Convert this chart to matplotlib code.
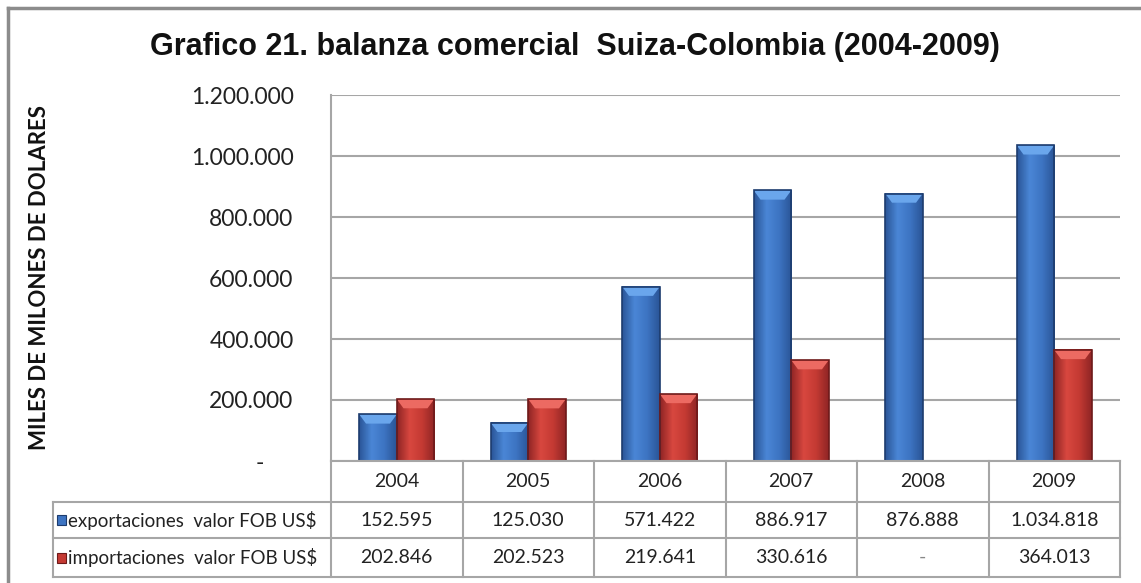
import matplotlib.pyplot as plt
import numpy as np
from matplotlib.colors import LinearSegmentedColormap
from matplotlib.patches import Polygon, Rectangle

years = ['2004', '2005', '2006', '2007', '2008', '2009']
exportaciones = [152595, 125030, 571422, 886917, 876888, 1034818]
importaciones = [202846, 202523, 219641, 330616, 0, 364013]
exp_txt = ['152.595', '125.030', '571.422', '886.917', '876.888', '1.034.818']
imp_txt = ['202.846', '202.523', '219.641', '330.616', '-', '364.013']
row_labels = ['exportaciones  valor FOB US$', 'importaciones  valor FOB US$']

W, H = 1141, 583
fig = plt.figure(figsize=(W / 100, H / 100), dpi=100)

# plot area in pixels
x0, x1, ytop, ybot = 331, 1120, 95, 461
ax = fig.add_axes([x0 / W, 1 - ybot / H, (x1 - x0) / W, (ybot - ytop) / H])
ax.set_xlim(-0.5, len(years) - 0.5)
ax.set_ylim(0, 1200000)
ax.set_yticks(np.arange(0, 1200001, 200000))


def fmt(v):
    if v == 0:
        return '-     '
    return f'{int(v):,}'.replace(',', '.')


ax.set_yticklabels([fmt(v) for v in ax.get_yticks()], family='Lato', fontsize=16.5, color='#222222')
ax.tick_params(axis='y', length=0, pad=27)
ax.set_xticks([])
for s in ['top', 'right', 'bottom']:
    ax.spines[s].set_visible(False)
ax.spines['left'].set_color('#a6a6a6')
ax.spines['left'].set_linewidth(1.5)
ax.yaxis.grid(True, color='#a6a6a6', linewidth=1.5)
ax.set_axisbelow(True)

bw = 0.285
blue = LinearSegmentedColormap.from_list('b', ['#2a5597', '#4a86d6', '#3d74c2', '#2a5597'])
red = LinearSegmentedColormap.from_list('r', ['#8f2525', '#d8473f', '#c43a33', '#8f2525'])
grad = np.linspace(0, 1, 64).reshape(1, -1)
bev_h = 30000  # height of top bevel in data units


def draw_bar(xc, v, cmap, light, edge):
    if v <= 0:
        return
    xa, xb = xc - bw / 2, xc + bw / 2
    ax.imshow(grad, cmap=cmap, aspect='auto', extent=(xa, xb, 0, v), zorder=3)
    d = bw * 0.18
    ax.add_patch(Polygon([(xa, v), (xb, v), (xb - d, v - bev_h), (xa + d, v - bev_h)],
                         closed=True, facecolor=light, edgecolor='none', zorder=4))
    ax.add_patch(Rectangle((xa, 0), bw, v, facecolor='none', edgecolor=edge, linewidth=1.2, zorder=5))


for i in range(len(years)):
    draw_bar(i - bw / 2, exportaciones[i], blue, '#6aa6ec', '#1d3c6e')
    draw_bar(i + bw / 2, importaciones[i], red, '#ec6a62', '#6e1a1a')
ax.set_xlim(-0.5, len(years) - 0.5)
ax.set_ylim(0, 1200000)

# overlay in pixel coordinates for table, frame and labels
ov = fig.add_axes([0, 0, 1, 1], zorder=10)
ov.set_xlim(0, W)
ov.set_ylim(H, 0)
ov.axis('off')
ov.patch.set_alpha(0)

gc = '#a6a6a6'
colw = (x1 - x0) / len(years)
r0, r1, r2, r3 = 461, 502, 538, 577
tl = 53
ov.plot([x0, x1], [r0, r0], color=gc, lw=1.5)
for yy in [r1, r2, r3]:
    ov.plot([tl, x1], [yy, yy], color=gc, lw=1.5)
ov.plot([tl, tl], [r1, r3], color=gc, lw=1.5)
for i in range(len(years) + 1):
    xx = x0 + i * colw
    ov.plot([xx, xx], [r0, r3], color=gc, lw=1.5)

for i, yr in enumerate(years):
    cx = x0 + (i + 0.5) * colw
    ov.text(cx, (r0 + r1) / 2, yr, ha='center', va='center', family='Lato', fontsize=14, color='#222222')
    ov.text(cx, (r1 + r2) / 2, exp_txt[i], ha='center', va='center', family='Lato', fontsize=14, color='#222222')
    ov.text(cx, (r2 + r3) / 2, imp_txt[i], ha='center', va='center', family='Lato', fontsize=14,
            color='#222222' if imp_txt[i] != '-' else '#888888')

for (ya, yb), lab, fc, ec in [((r1, r2), row_labels[0], '#3d74c2', '#1d3c6e'),
                              ((r2, r3), row_labels[1], '#c43a33', '#6e1a1a')]:
    ym = (ya + yb) / 2
    ov.add_patch(Rectangle((57, ym - 5), 9, 10, facecolor=fc, edgecolor=ec, lw=0.8))
    ov.text(68, ym, lab, ha='left', va='center', family='Lato', fontsize=13.5, color='#222222')

# outer frame
ov.plot([8, 8], [8, H], color='#8c8c8c', lw=2.5)
ov.plot([8, W], [8, 8], color='#8c8c8c', lw=2.5)

ov.text(575, 47, 'Grafico 21. balanza comercial  Suiza-Colombia (2004-2009)', ha='center', va='center',
        family='Liberation Sans', fontweight='bold', fontsize=22, color='#111111')
ov.text(40, 277, 'MILES DE MILONES DE DOLARES', rotation=90, ha='center', va='center',
        family='Lato', fontweight='bold', fontsize=16, color='#111111')

fig.savefig('out.png', dpi=100)
